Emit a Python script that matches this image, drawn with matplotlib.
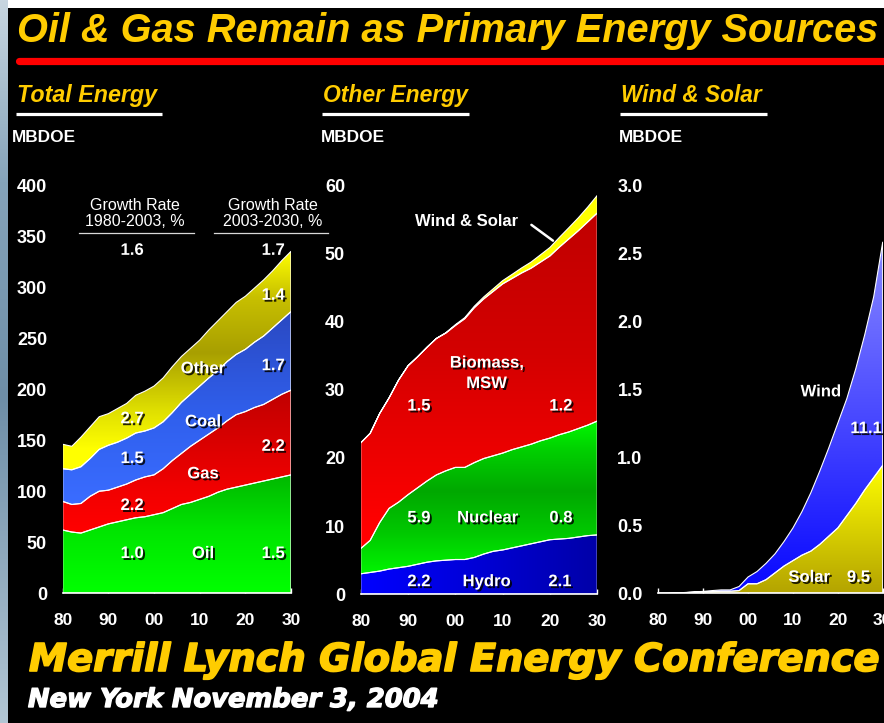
import numpy as np
import matplotlib
matplotlib.use("Agg")
import matplotlib.pyplot as plt
from matplotlib import patheffects as pe
from matplotlib import transforms as mtransforms
from matplotlib.colors import LinearSegmentedColormap
from matplotlib.lines import Line2D
from matplotlib.patches import Rectangle

plt.rcParams["font.family"] = ["Liberation Sans", "DejaVu Sans"]

W, H, DPI = 884, 723, 100

# ---------------------------------------------------------------- data
years = np.arange(1980, 2031, 2)
decade_ticks = [1980, 1990, 2000, 2010, 2020, 2030]
decade_labels = ["80", "90", "00", "10", "20", "30"]

# Total energy by fuel, MBDOE
oil = [62, 60, 59, 62, 65, 68, 70, 72, 74, 75, 77, 79, 83, 87, 89, 92, 95, 99, 102,
       104, 106, 108, 110, 112, 114, 116]
gas = [28, 27, 29, 33, 35, 33, 34, 35, 37, 39, 39, 43, 47, 50, 55, 58, 61, 63, 67,
       71, 72, 74, 75, 78, 81, 83]
coal = [32, 34, 36, 37, 41, 44, 44, 45, 46, 45, 46, 46, 47, 50, 51, 53, 55, 56, 58,
        59, 61, 64, 67, 70, 73, 77]
other = [24, 23, 29, 31, 32, 31, 33, 34, 37, 39, 41, 43, 45, 45, 45, 45, 47, 49, 49,
         51, 52, 53, 55, 56, 58, 59]

# Other energy, MBDOE
hydro = [3.0, 3.2, 3.4, 3.7, 3.9, 4.1, 4.4, 4.7, 4.9, 5.0, 5.1, 5.1, 5.4, 5.9, 6.3,
         6.5, 6.8, 7.1, 7.4, 7.7, 8.0, 8.1, 8.2, 8.4, 8.6, 8.7]
nuclear = [3.7, 4.7, 7.1, 8.9, 9.6, 10.5, 11.2, 11.9, 12.6, 13.1, 13.5, 13.5, 13.9,
           14.0, 14.0, 14.2, 14.4, 14.5, 14.6, 14.8, 14.9, 15.3, 15.6, 15.9, 16.2, 16.7]
biomass = [15.5, 15.7, 16.0, 16.2, 17.9, 18.9, 19.2, 19.6, 20.0, 20.2, 20.8, 21.8,
           22.7, 23.4, 24.1, 24.8, 25.1, 25.5, 25.8, 26.2, 26.7, 27.5, 28.3, 29.0,
           29.8, 30.5]

# Wind & solar, MBDOE
solar = [0.0, 0.0, 0.002, 0.005, 0.008, 0.01, 0.012, 0.015, 0.015, 0.02, 0.07, 0.07,
         0.10, 0.15, 0.20, 0.24, 0.28, 0.31, 0.36, 0.42, 0.48, 0.57, 0.66, 0.76,
         0.85, 0.94]
wind = [0.0, 0.0, 0.001, 0.001, 0.002, 0.004, 0.008, 0.01, 0.01, 0.03, 0.05, 0.09,
        0.12, 0.14, 0.18, 0.24, 0.32, 0.43, 0.54, 0.65, 0.77, 0.86, 0.99, 1.14,
        1.33, 1.64]

# ---------------------------------------------------------------- figure
fig = plt.figure(figsize=(W / DPI, H / DPI), dpi=DPI)
fig.patch.set_facecolor("black")
# pixel coordinates measured from the top-left corner
PX = mtransforms.Affine2D().scale(1, -1).translate(0, H)

YELLOW = "#ffcc00"
SHADOW = [pe.withSimplePatchShadow(offset=(1.4, -1.4), shadow_rgbFace="black", alpha=0.85)]


def fit_text(x, y, s, width, size0=20, **kw):
    t = fig.text(x, y, s, transform=PX, fontsize=size0, **kw)
    r = fig.canvas.get_renderer()
    w = t.get_window_extent(renderer=r).width
    t.set_fontsize(size0 * width / w)
    return t


def panel(x0, x1, ytop, ybot, ymax, yticks, ylabels):
    ax = fig.add_axes([x0 / W, 1 - ybot / H, (x1 - x0) / W, (ybot - ytop) / H])
    ax.set_facecolor("black")
    ax.set_xlim(1980, 2030)
    ax.set_ylim(0, ymax)
    for s in ("top", "right", "left"):
        ax.spines[s].set_visible(False)
    ax.spines["bottom"].set_color("white")
    ax.spines["bottom"].set_linewidth(1.2)
    ax.spines["bottom"].set_zorder(5)
    ax.set_xticks(decade_ticks, decade_labels)
    ax.set_yticks(yticks, ylabels)
    ax.tick_params(axis="x", direction="in", length=3.6, width=1, color="white",
                   pad=14, labelcolor="white", labelsize=12.5)
    ax.tick_params(axis="y", length=0, pad=11.3, labelcolor="white", labelsize=13)
    for lab in ax.get_xticklabels() + ax.get_yticklabels():
        lab.set_fontweight("bold")
    return ax


def gradient_band(ax, x, lower, upper, stops, horizontal=False):
    band = ax.fill_between(x, lower, upper, facecolor="none", edgecolor="white",
                           linewidth=0.8, zorder=3)
    x0, x1 = ax.get_xlim()
    y0, y1 = ax.get_ylim()
    lo, hi = (x0, x1) if horizontal else (y0, y1)
    pos = [min(max((v - lo) / (hi - lo), 0), 1) for v, _ in stops]
    cols = [c for _, c in stops]
    if pos[0] > 0:
        pos, cols = [0.0] + pos, [cols[0]] + cols
    if pos[-1] < 1:
        pos, cols = pos + [1.0], cols + [cols[-1]]
    cmap = LinearSegmentedColormap.from_list("band", list(zip(pos, cols)))
    ramp = np.linspace(0, 1, 512)
    img = ramp.reshape(1, -1) if horizontal else ramp.reshape(-1, 1)
    im = ax.imshow(img, cmap=cmap, vmin=0, vmax=1, extent=(x0, x1, y0, y1),
                   origin="lower", aspect="auto", zorder=2, interpolation="bilinear")
    im.set_clip_path(band.get_paths()[0], transform=ax.transData)
    ax.set_xlim(x0, x1)
    ax.set_ylim(y0, y1)


def label(ax, x, y, s, size=12):
    ax.text(x, y, s, color="white", fontsize=size, fontweight="bold", ha="center",
            va="center", path_effects=SHADOW, zorder=6, clip_on=False)


# ---------------------------------------------------------------- frame
strip = fig.add_axes([0, 0, 8 / W, 1])
strip.axis("off")
strip_cmap = LinearSegmentedColormap.from_list(
    "strip", [(0, "#c8d6e0"), (0.25, "#86a4ba"), (0.55, "#6e8ea7"), (1, "#b2c6d4")])
strip.imshow(np.linspace(0, 1, 256).reshape(-1, 1), cmap=strip_cmap, aspect="auto",
             origin="upper", extent=(0, 1, 0, 1))
fig.add_artist(Rectangle((8, 0), W - 8, 8, transform=PX, facecolor="white",
                         edgecolor="none"))

fit_text(17, 42, "Oil & Gas Remain as Primary Energy Sources", 859, color=YELLOW,
         fontweight="bold", fontstyle="italic", va="baseline", ha="left")
fig.add_artist(Line2D([19, W + 5], [60.5, 60.5], transform=PX, color="#ff0000",
                      lw=5.2, solid_capstyle="round"))

for x0, x1, head, hw in ((16, 162, "Total Energy", 140), (322, 469, "Other Energy", 145),
                         (620, 767, "Wind & Solar", 141)):
    fit_text(x0 + 1, 102, head, hw, color=YELLOW, fontweight="bold",
             fontstyle="italic", va="baseline", ha="left")
    fig.add_artist(Line2D([x0, x1], [113.5, 113.5], transform=PX, color="white",
                          lw=2.3, solid_capstyle="butt"))
    fig.text(x0 - 4 if x0 == 16 else x0 - 1, 137, "MBDOE", transform=PX,
             color="white", fontsize=12.4, fontweight="bold", va="center", ha="left")

# ---------------------------------------------------------------- total energy
ax1 = panel(62.7, 291, 185, 593.3, 400, range(0, 401, 50),
            [str(v) for v in range(0, 401, 50)])
s1 = np.cumsum([oil, gas, coal, other], axis=0)
zero = np.zeros(len(years))
gradient_band(ax1, years, zero, s1[0],
              [(0, "#00ff00"), (60, "#00e600"), (120, "#00b400")])
gradient_band(ax1, years, s1[0], s1[1],
              [(60, "#ff0000"), (100, "#f20000"), (200, "#bf0000")])
gradient_band(ax1, years, s1[1], s1[2],
              [(90, "#3a6cff"), (170, "#3060ee"), (280, "#2a48c0")])
gradient_band(ax1, years, s1[2], s1[3],
              [(140, "#ffff00"), (180, "#dede00"), (235, "#a89f00"), (290, "#c8c000"),
               (335, "#ffff00")])

for x, l1, l2, ux in ((135, "Growth Rate", "1980-2003, %", (79, 194)),
                      (272.5, "Growth Rate", "2003-2030, %", (214, 328))):
    fig.text(x, 205, l1, transform=PX, color="white", fontsize=11.5, ha="center",
             va="center")
    fig.text(x, 221.5, l2, transform=PX, color="white", fontsize=11.5, ha="center",
             va="center")
    fig.add_artist(Line2D(list(ux), [232.5, 232.5], transform=PX, color="#d8d8d8",
                          lw=0.9))

label(ax1, 1995.2, 336, "1.6")
label(ax1, 2026.1, 336, "1.7")
label(ax1, 2026.1, 292, "1.4")
label(ax1, 2010.7, 220, "Other")
label(ax1, 2026.1, 223, "1.7")
label(ax1, 1995.2, 171, "2.7")
label(ax1, 2010.7, 168, "Coal")
label(ax1, 1995.2, 132, "1.5")
label(ax1, 2026.1, 144, "2.2")
label(ax1, 2010.7, 117, "Gas")
label(ax1, 1995.2, 86, "2.2")
label(ax1, 1995.2, 39, "1.0")
label(ax1, 2010.7, 39, "Oil")
label(ax1, 2026.1, 39, "1.5")

# ---------------------------------------------------------------- other energy
ax2 = panel(360.7, 597.3, 185, 594.3, 60, range(0, 61, 10),
            [str(v) for v in range(0, 61, 10)])
wind_solar = np.add(wind, solar)
s2 = np.cumsum([hydro, nuclear, biomass, wind_solar], axis=0)
gradient_band(ax2, years, zero, s2[0],
              [(1980, "#0000ff"), (2000, "#0000de"), (2030, "#0000a8")], horizontal=True)
gradient_band(ax2, years, s2[0], s2[1],
              [(3, "#00f400"), (9, "#00c800"), (15, "#00a800"), (21, "#00d000"),
               (26, "#00ff00")])
gradient_band(ax2, years, s2[1], s2[2],
              [(10, "#ff0000"), (35, "#d40000"), (56, "#c00000")])
gradient_band(ax2, years, s2[2], s2[3], [(0, "#ffff00"), (60, "#ffff00")])

ax2.text(2002.4, 54.6, "Wind & Solar", color="white", fontsize=12, fontweight="bold",
         ha="center", va="center", zorder=6)
ax2.annotate("", xy=(2021.1, 51.6), xytext=(2015.6, 54.4),
             arrowprops=dict(arrowstyle="-", color="white", lw=1.8), zorder=6)
label(ax2, 2006.6, 33.9, "Biomass,")
label(ax2, 2006.6, 30.9, "MSW")
label(ax2, 1992.3, 27.6, "1.5")
label(ax2, 2022.3, 27.6, "1.2")
label(ax2, 1992.3, 11.2, "5.9")
label(ax2, 2006.8, 11.2, "Nuclear")
label(ax2, 2022.3, 11.2, "0.8")
label(ax2, 1992.3, 1.85, "2.2")
label(ax2, 2006.6, 1.85, "Hydro")
label(ax2, 2022.1, 1.85, "2.1")

# ---------------------------------------------------------------- wind & solar
ax3 = panel(658.3, 882.7, 185, 593.3, 3.0, np.arange(0, 3.01, 0.5),
            [f"{v:.1f}" for v in np.arange(0, 3.01, 0.5)])
s3 = np.cumsum([solar, wind], axis=0)
gradient_band(ax3, years, zero, s3[0],
              [(0, "#b4a400"), (0.5, "#dcd400"), (0.95, "#ffff00")])
gradient_band(ax3, years, s3[0], s3[1],
              [(0.1, "#0c0cff"), (1.0, "#3a3aff"), (2.6, "#8a8aff")])
label(ax3, 2016.2, 1.48, "Wind")
label(ax3, 2026.3, 1.21, "11.1")
label(ax3, 2013.6, 0.117, "Solar")
label(ax3, 2024.6, 0.117, "9.5")

# ---------------------------------------------------------------- footer
heavy = [pe.withStroke(linewidth=1.2, foreground=YELLOW)]
fit_text(29, 671, "Merrill Lynch Global Energy Conference", 850, color=YELLOW,
         family="DejaVu Sans", fontweight="bold", fontstyle="italic", va="baseline",
         ha="left", path_effects=heavy)
fit_text(28, 707, "New York November 3, 2004", 410, color="white",
         family="DejaVu Sans", fontweight="bold", fontstyle="italic", va="baseline",
         ha="left", path_effects=[pe.withStroke(linewidth=1.0, foreground="white")])

fig.savefig("out.png", dpi=DPI, facecolor="black")
